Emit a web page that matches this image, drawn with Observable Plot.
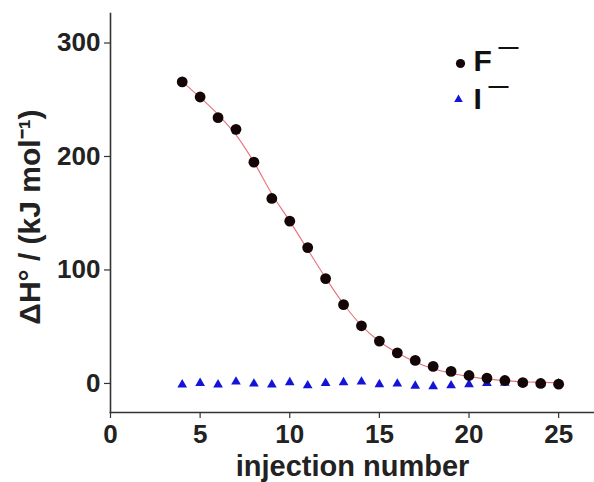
<!DOCTYPE html>
<html>
<head>
<meta charset="utf-8">
<script src="https://cdn.jsdelivr.net/npm/d3@7"></script>
<script src="https://cdn.jsdelivr.net/npm/@observablehq/plot@0.6"></script>
<style>
  html, body { margin: 0; padding: 0; background: #fff; }
  #chart svg { display: block; font-family: "Liberation Sans", Arial, sans-serif; font-weight: bold; }
</style>
</head>
<body>
<div id="chart"></div>
<script>
const injections = [4,5,6,7,8,9,10,11,12,13,14,15,16,17,18,19,20,21,22,23,24,25];
const fluorideH = [265.7,252.4,234.2,223.9,195,163,143,119.7,92.4,69.4,50.8,37.3,27,20.3,15,10.6,7,4.7,2.6,0.8,0,-0.6];
const fluorideFit = [266,252,237,219,195,167,143,118,93,70,51,37,27,19,13,9,6,4,2.5,1.5,1,0.5];
const iodideH = [-1,0.3,-1,1.5,-0.3,-1,0.9,-1.8,0.3,0.9,1.5,-0.9,-0.3,-2.1,-2.6,-1.8,-0.9,0.2,0.4,0.3,0.1,-0.2];
const xTicks = [0,5,10,15,20,25];
const yTicks = [0,100,200,300];
const legendLabels = ["F", "I"];

const F = injections.map((x, i) => ({x, y: fluorideH[i]}));
const Ffit = injections.map((x, i) => ({x, y: fluorideFit[i]}));
const I = injections.map((x, i) => ({x, y: iodideH[i]}));

const axisColor = "#333";
const fontFamily = '"Liberation Sans", Arial, sans-serif';

const chart = Plot.plot({
  width: 594,
  height: 482,
  marginLeft: 110,
  marginRight: 0,
  marginTop: 13,
  marginBottom: 70,
  style: {fontFamily, fontWeight: "bold", color: "#222", background: "#fff", overflow: "visible"},
  x: {domain: [0, 27]},
  y: {domain: [-25.6, 326]},
  marks: [
    Plot.axisX({ticks: xTicks, tickSize: 6, tickPadding: 6, fontSize: 26, label: null, stroke: axisColor, strokeWidth: 1.2}),
    Plot.axisY({ticks: yTicks, tickSize: 6, tickPadding: 4, fontSize: 26, label: null, stroke: axisColor, strokeWidth: 1.2}),
    Plot.frame({anchor: "bottom", stroke: axisColor, strokeWidth: 1.6}),
    Plot.frame({anchor: "left", stroke: axisColor, strokeWidth: 1.6}),
    Plot.line(Ffit, {x: "x", y: "y", stroke: "#e8707c", strokeWidth: 1.1, curve: "monotone-x"}),
    Plot.dot(I, {x: "x", y: "y", symbol: "triangle", r: 3.6, fill: "#1414d8", stroke: "none"}),
    Plot.dot(F, {x: "x", y: "y", r: 5.4, fill: "#140606", stroke: "none"}),
    // axis titles
    Plot.text(["injection number"], {frameAnchor: "bottom", textAnchor: "middle", lineAnchor: "middle", dy: 54.5, fontSize: 29, fontWeight: "bold", fill: "#222", text: d => d}),
    Plot.text(["ΔH° / (kJ mol⁻¹)"], {frameAnchor: "left", textAnchor: "middle", lineAnchor: "middle", dx: -80, dy: 4, rotate: -90, fontSize: 30, fontWeight: "bold", fill: "#222", text: d => d}),
    // legend
    Plot.dot([legendLabels[0]], {frameAnchor: "top-left", dx: 350, dy: 50, r: 4.6, fill: "#140606"}),
    Plot.dot([legendLabels[1]], {frameAnchor: "top-left", dx: 348, dy: 86, r: 3.2, symbol: "triangle", fill: "#1414d8"}),
    Plot.text([legendLabels[0]], {frameAnchor: "top-left", dx: 363, dy: 47.4, textAnchor: "start", lineAnchor: "middle", fontSize: 30, fontWeight: "bold", fill: "#111", text: d => d}),
    Plot.text([legendLabels[1]], {frameAnchor: "top-left", dx: 363, dy: 85.4, textAnchor: "start", lineAnchor: "middle", fontSize: 30, fontWeight: "bold", fill: "#111", text: d => d}),
    Plot.text(["—"], {frameAnchor: "top-left", dx: 388, dy: 25, lineAnchor: "top", fontSize: 20, fill: "#111", text: d => d}),
    Plot.text(["—"], {frameAnchor: "top-left", dx: 378, dy: 64, lineAnchor: "top", fontSize: 20, fill: "#111", text: d => d})
  ]
});
document.getElementById("chart").appendChild(chart);
</script>
</body>
</html>
